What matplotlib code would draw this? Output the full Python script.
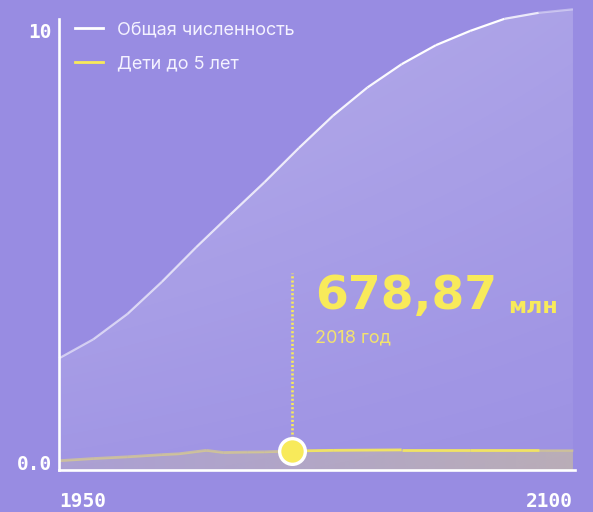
"""
plot.py
-------
World population vs children under 5, 1950-2100 (billions).
Saves out.png (593x512 px).
"""

import numpy as np
import matplotlib
matplotlib.use("Agg")
import matplotlib.pyplot as plt
from matplotlib.collections import LineCollection
from matplotlib.lines import Line2D

# ── data ──────────────────────────────────────────────────────────────────────
years_total = [1950, 1960, 1970, 1980, 1990, 2000, 2010, 2020,
               2030, 2040, 2050, 2060, 2070, 2080, 2090, 2100]
total_pop = [2.40, 2.84, 3.43, 4.17, 4.97, 5.73, 6.48, 7.27,
             8.02, 8.67, 9.21, 9.65, 9.98, 10.26, 10.40, 10.48]

years_kids = [1950, 1960, 1970, 1980, 1985, 1990, 1993, 1998,
              2005, 2010, 2018, 2030, 2050, 2070, 2090, 2100]
kids_pop = [0.03, 0.08, 0.12, 0.17, 0.19, 0.24, 0.27, 0.22,
            0.23, 0.235, 0.255, 0.27, 0.28, 0.28, 0.28, 0.28]

legend_labels = ["Общая численность", "Дети до 5 лет"]
highlight_year = 2018
highlight_value = "678,87"
highlight_unit = "млн"
highlight_caption = "2018 год"

x_ticks = [1950, 2100]
y_ticks = [0, 10]
y_tick_labels = ["0.0", "10"]

# ── style ─────────────────────────────────────────────────────────────────────
BG = "#988ce2"
YELLOW = "#f8ea5a"
WHITE = "#ffffff"
TEXT_FONT = ["Inter", "DejaVu Sans"]
MONO = "DejaVu Sans Mono"

Y_BOTTOM, Y_TOP = -0.185, 10.58
PX_PER_UNIT = 43.2      # vertical pixels per billion
PX_PER_YEAR = 3.4267


def gradient_fill(ax, x, y, rgb, alpha_img):
    """Fill under (x, y) with an RGBA image clipped to the area."""
    poly = ax.fill_between(x, y, Y_BOTTOM, color="none", lw=0)
    img = np.zeros(alpha_img.shape + (4,))
    img[..., :3] = matplotlib.colors.to_rgb(rgb)
    img[..., 3] = alpha_img
    im = ax.imshow(img, extent=[x[0], x[-1], Y_BOTTOM, max(y)],
                   origin="lower", aspect="auto", interpolation="bilinear",
                   zorder=poly.get_zorder())
    im.set_clip_path(poly.get_paths()[0], transform=ax.transData)
    return im


def faded_line(ax, x, y, color, alphas, lw, zorder):
    pts = np.column_stack([x, y])
    segs = np.stack([pts[:-1], pts[1:]], axis=1)
    rgba = np.zeros((len(segs), 4))
    rgba[:, :3] = matplotlib.colors.to_rgb(color)
    rgba[:, 3] = alphas
    lc = LineCollection(segs, colors=rgba, linewidths=lw, zorder=zorder,
                        capstyle="butt")
    lc.set_clip_on(False)
    ax.add_collection(lc)


def px_to_val(py):
    """Image row (px from top) -> data value, 0 sits at row 462."""
    return (462 - py) / PX_PER_UNIT


def main():
    fig = plt.figure(figsize=(5.93, 5.12), dpi=100, facecolor=BG)
    ax = fig.add_axes([58.5 / 593, 42 / 512, (575 - 58.5) / 593, (470 - 5) / 512])
    ax.set_facecolor(BG)
    ax.set_xlim(1949.85, 2100.6)
    ax.set_ylim(Y_BOTTOM, Y_TOP)

    # total population: white area with soft fade + line
    yy = np.linspace(0, 1, 200)[:, None]
    xx = np.linspace(0, 1, 200)[None, :]
    alpha_tot = 0.05 + 0.22 * yy * (1 - 0.35 * xx) + 0.04 * (1 - xx)
    gradient_fill(ax, years_total, total_pop, WHITE, alpha_tot)

    seg_years = np.array(years_total[:-1])
    a_tot = np.clip(0.55 + (seg_years - 1950) / 100 * 0.45, 0, 1)
    a_tot[seg_years == 2080] = 0.8
    a_tot[seg_years == 2090] = 0.4
    faded_line(ax, years_total, total_pop, WHITE, a_tot, 1.6, 3)

    # children under 5: yellow-ish area + line
    alpha_kids = np.repeat(np.linspace(0.12, 0.32, 200)[None, :], 20, axis=0)
    gradient_fill(ax, years_kids, kids_pop, YELLOW, alpha_kids)

    seg_k = np.array(years_kids[:-1])
    a_kids = np.where(seg_k < highlight_year, 0.45, 0.9)
    a_kids[seg_k >= 2090] = 0.3
    faded_line(ax, years_kids, kids_pop, YELLOW, a_kids, 2.0, 4)

    # highlight marker + dotted guide
    kid_val = kids_pop[years_kids.index(highlight_year)]
    ax.plot([highlight_year, highlight_year], [kid_val, px_to_val(273)],
            color=YELLOW, lw=1.9, ls=(0, (0.8, 0.8)), zorder=5, clip_on=False)
    ax.plot([highlight_year], [kid_val], "o", ms=18.5, mfc=YELLOW, mec=WHITE,
            mew=2.4, zorder=6, clip_on=False)

    x_text = highlight_year + 23 / PX_PER_YEAR
    num = ax.text(x_text, px_to_val(296), highlight_value,
                  fontsize=34, fontweight="bold", family="DejaVu Sans",
                  color=YELLOW, va="center", ha="left")
    ax.annotate(highlight_unit, xy=(1, 0), xycoords=num, xytext=(8, 1),
                textcoords="offset points", fontsize=16, fontweight="bold",
                family="DejaVu Sans", color=YELLOW, va="bottom", ha="left")
    ax.text(x_text, px_to_val(337.5), highlight_caption, fontsize=13,
            family=TEXT_FONT, color="#f3e36e", va="center", ha="left")

    # axes cosmetics
    for side in ("top", "right"):
        ax.spines[side].set_visible(False)
    for side in ("left", "bottom"):
        ax.spines[side].set_color(WHITE)
        ax.spines[side].set_linewidth(1.9)
        ax.spines[side].set_zorder(7)
    ax.spines["left"].set_bounds(Y_BOTTOM, px_to_val(19))

    ax.set_yticks(y_ticks)
    ax.set_yticklabels(y_tick_labels)
    ax.set_xticks(x_ticks)
    ax.set_xticklabels([str(t) for t in x_ticks])
    ax.tick_params(length=0, colors=WHITE, labelsize=14)
    ax.tick_params(axis="y", pad=4.5)
    ax.tick_params(axis="x", pad=16)
    for lab in ax.get_xticklabels() + ax.get_yticklabels():
        lab.set_fontfamily(MONO)
        lab.set_fontweight("bold")
    xl = ax.get_xticklabels()
    xl[0].set_ha("left")
    xl[-1].set_ha("right")

    handles = [Line2D([], [], color=WHITE, lw=2),
               Line2D([], [], color=YELLOW, lw=2)]
    leg = ax.legend(handles, legend_labels, loc="upper left",
                    bbox_to_anchor=(75 / 593, 1 - 21 / 512),
                    bbox_transform=fig.transFigure, frameon=False,
                    prop={"family": TEXT_FONT, "size": 13},
                    handlelength=1.55, handletextpad=0.78, labelspacing=0.95,
                    borderaxespad=0, borderpad=0)
    for t in leg.get_texts():
        t.set_color("#f4f2ff")

    fig.savefig("out.png", dpi=100, facecolor=BG)
    plt.close(fig)


if __name__ == "__main__":
    main()
